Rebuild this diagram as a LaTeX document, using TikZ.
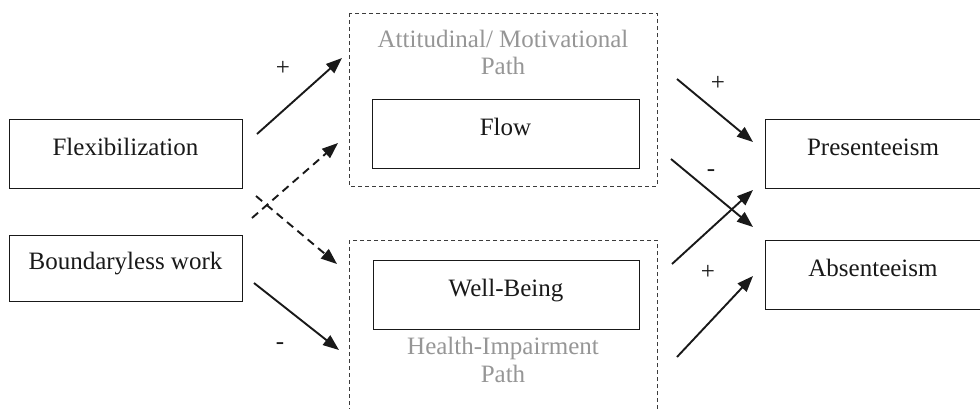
\documentclass[tikz,border=0pt]{standalone}
\usepackage{fontspec}
\setmainfont{Liberation Serif}
\usetikzlibrary{arrows.meta}
\definecolor{titlegray}{RGB}{150,150,150}
\definecolor{ink}{RGB}{25,25,25}
\begin{document}
\begin{tikzpicture}[x=1pt,y=-1pt,
  every node/.style={font=\fontsize{25}{27}\selectfont, text=ink},
  solidbox/.style={draw=ink, line width=1pt, inner sep=0pt, text height=17pt, text depth=13.4pt},
  pathbox/.style={draw=ink!85, line width=0.9pt, dash pattern=on 4pt off 3pt},
  pathtitle/.style={text=titlegray, anchor=base, inner sep=0pt},
  sign/.style={inner sep=0pt},
  arr/.style={draw=ink, line width=1.9pt, -{Triangle[length=16pt,width=12pt]}},
  darr/.style={arr, dash pattern=on 8pt off 5.5pt}
]
\useasboundingbox (0,0) rectangle (980,408);
\clip (0,0) rectangle (980,408);
\fill[white] (0,0) rectangle (980,408);

% source boxes
\node[solidbox, minimum width=233pt, minimum height=69pt] (flex) at (125.5,153.5) {Flexibilization};
\node[solidbox, minimum width=233pt, minimum height=66pt] (bound) at (125.5,268) {Boundaryless work};

% path frames
\draw[pathbox] (349,13) rectangle (657,186);
\draw[pathbox] (349,240) rectangle (657,440);
\node[pathtitle] (t1a) at (503,47) {Attitudinal/ Motivational};
\node[pathtitle] (t1b) at (503,74) {Path};
\node[pathtitle] (t2a) at (503,354) {Health-Impairment};
\node[pathtitle] (t2b) at (503,382) {Path};

% mediator boxes
\node[solidbox, minimum width=267pt, minimum height=69pt] (flow) at (505.5,133.5) {Flow};
\node[solidbox, minimum width=266pt, minimum height=69pt] (well) at (506,294.5) {Well-Being};

% outcome boxes
\node[solidbox, minimum width=216pt, minimum height=69pt] (pres) at (873,153.5) {Presenteeism};
\node[solidbox, minimum width=216pt, minimum height=69pt] (abs) at (873,274.5) {Absenteeism};

% arrow end points
\coordinate (a1s) at (257,134); \coordinate (a1e) at (342,58);
\coordinate (a2s) at (252,218); \coordinate (a2e) at (338,143);
\coordinate (a3s) at (256,196); \coordinate (a3e) at (337,264);
\coordinate (a4s) at (254,283); \coordinate (a4e) at (339,350);
\coordinate (a5s) at (677,79);  \coordinate (a5e) at (753,142);
\coordinate (a6s) at (671,159); \coordinate (a6e) at (753,227);
\coordinate (a7s) at (672,264); \coordinate (a7e) at (753,190);
\coordinate (a8s) at (677,357); \coordinate (a8e) at (753,276);

\draw[arr] (a1s) -- (a1e);
\draw[darr] (a2s) -- (a2e);
\draw[darr] (a3s) -- (a3e);
\draw[arr] (a4s) -- (a4e);
\draw[arr] (a5s) -- (a5e);
\draw[arr] (a6s) -- (a6e);
\draw[arr] (a7s) -- (a7e);
\draw[arr] (a8s) -- (a8e);

% signs
\node[sign] (s1) at (283,68) {+};
\node[sign] (s2) at (280,346) {-};
\node[sign] (s3) at (718,83) {+};
\node[sign] (s4) at (711,173) {-};
\node[sign] (s5) at (708,272) {+};
\end{tikzpicture}
\end{document}
